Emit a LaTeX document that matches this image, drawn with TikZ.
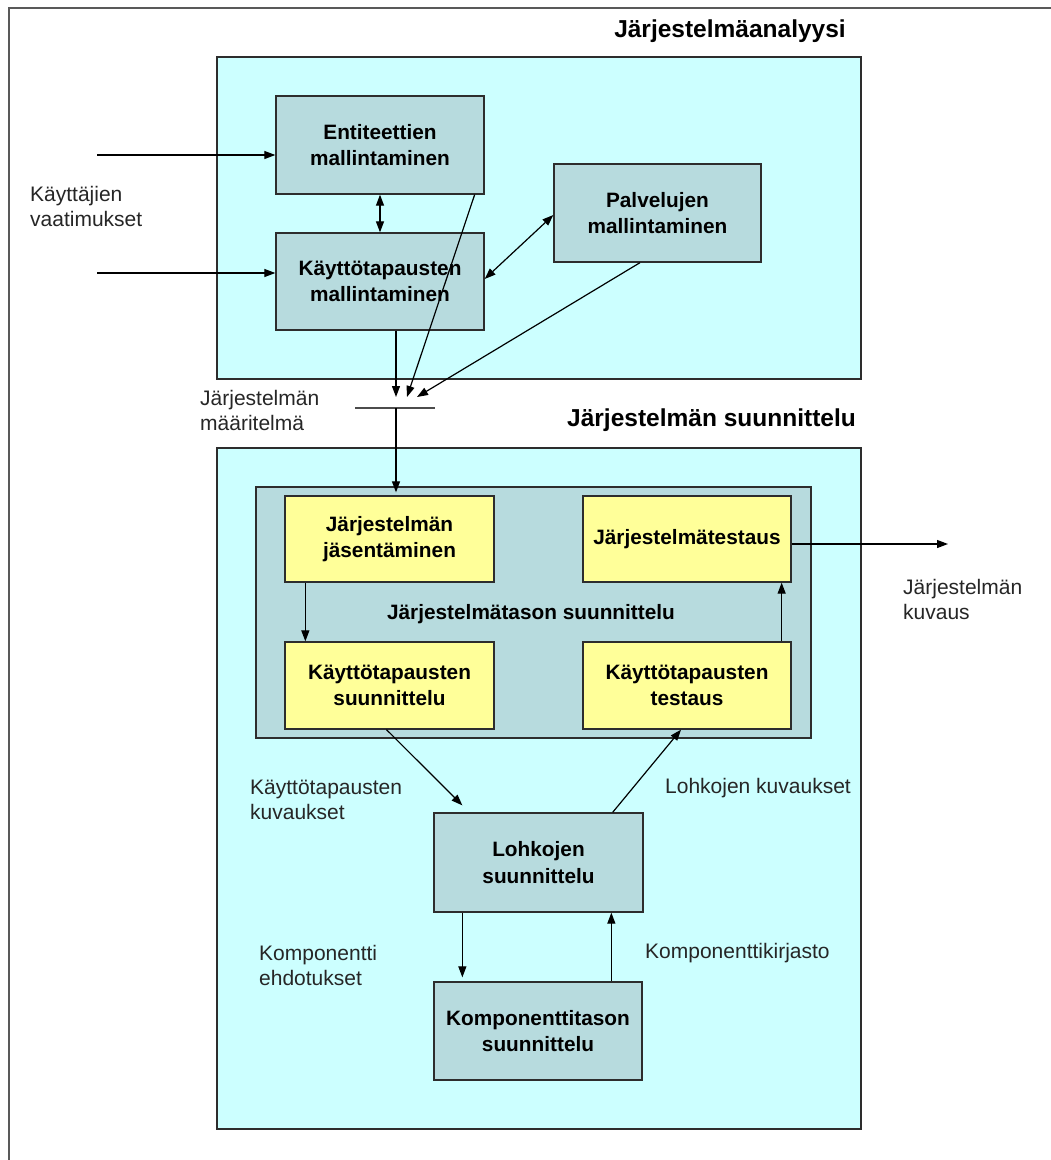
\documentclass[tikz,border=0pt]{standalone}
\usepackage{fontspec}
\setmainfont{Liberation Sans}
\usetikzlibrary{arrows.meta,calc}

\definecolor{paneCyan}{RGB}{204,255,255}
\definecolor{stepGray}{RGB}{183,219,222}
\definecolor{stepYellow}{RGB}{255,255,153}
\definecolor{edgeGray}{RGB}{45,45,45}

\tikzset{
  x=1pt, y=-1pt,
  pane/.style={draw=edgeGray, line width=1.3pt, fill=paneCyan, minimum width=644pt, inner sep=0pt},
  graybox/.style={draw=edgeGray, line width=1.3pt, fill=stepGray, align=center, inner sep=0pt,
    font=\fontsize{20.8}{26.5}\selectfont\bfseries},
  yellowbox/.style={draw=edgeGray, line width=1.3pt, fill=stepYellow, align=center, inner sep=0pt,
    font=\fontsize{20.8}{26.5}\selectfont\bfseries},
  heading/.style={font=\fontsize{24.5}{29}\selectfont\bfseries, inner sep=0pt},
  flowlabel/.style={font=\fontsize{21}{25}\selectfont, text=black!85, align=left, inner sep=0pt, anchor=west},
  flow/.style={line width=1.2pt, -{Triangle[length=11pt,width=8pt]}},
  biflow/.style={line width=1.2pt, {Triangle[length=11pt,width=8pt]}-{Triangle[length=11pt,width=8pt]}},
  plain/.style={line width=1.2pt},
  frame/.style={line width=2pt, draw=black!65}
}

\begin{document}
\begin{tikzpicture}
\useasboundingbox (0,0) rectangle (1051,1160);
\fill[white] (0,0) rectangle (1051,1160);

% page frame (only the top and left edges fall inside the page)
\draw[frame] (9,1160) -- (9,8) -- (1051,8);

% ---------- system analysis ----------
\node[heading, anchor=east] (titleA) at (846,31) {Järjestelmäanalyysi};
\node[pane, minimum height=322pt] (paneA) at (539,218) {};

\node[graybox, minimum width=208pt, minimum height=98pt] (ent) at (380,145) {Entiteettien\\mallintaminen};
\node[graybox, minimum width=208pt, minimum height=97pt] (kay) at (380,281.5) {Käyttötapausten\\mallintaminen};
\node[graybox, minimum width=207pt, minimum height=98pt] (pal) at (657.5,213) {Palvelujen\\mallintaminen};

% user requirements entering from the left
\coordinate (in1) at (97,155);
\coordinate (in2) at (97,273);
\node[flowlabel] (req) at (30,206) {Käyttäjien\\vaatimukset};
\draw[flow] (in1) -- (in1 -| ent.west);
\draw[flow] (in2) -- (in2 -| kay.west);

\draw[biflow] (ent.south) -- (kay.north);
\draw[biflow] ($(kay.east)+(0,-2.5)$) -- ($(pal.west)+(0,2)$);

% merge bar collecting the system definition
\coordinate (m1) at (396,397);
\coordinate (m2) at (407,397);
\coordinate (m3) at (417,397);
\coordinate (barL) at (355,408);
\coordinate (barR) at (435,408);
\coordinate (merge) at (396,408);
\draw[flow] (kay.south -| m1) -- (m1);
\draw[flow] ($(ent.south east)+(-10,0)$) -- (m2);
\draw[flow] ($(pal.south)+(-17.5,0)$) -- (m3);
\draw[plain, draw=black!70] (barL) -- (barR);
\node[flowlabel] (defn) at (200,410) {Järjestelmän\\määritelmä};

% ---------- system design ----------
\node[heading, anchor=west] (titleB) at (567,420) {Järjestelmän suunnittelu};
\node[pane, minimum height=681pt] (paneB) at (539,788.5) {};

\node[graybox, minimum width=555pt, minimum height=251pt] (jt) at (533.5,612.5) {};
\node[font=\fontsize{20.8}{26.5}\selectfont\bfseries, inner sep=0pt] (jtlabel) at (531,614) {Järjestelmätason suunnittelu};

\node[yellowbox, minimum width=209pt, minimum height=86pt] (jas) at (389.5,539) {Järjestelmän\\jäsentäminen};
\node[yellowbox, minimum width=209pt, minimum height=87pt] (ksu) at (389.5,685.5) {Käyttötapausten\\suunnittelu};
\node[yellowbox, minimum width=208pt, minimum height=86pt] (jte) at (687,539) {Järjestelmätestaus};
\node[yellowbox, minimum width=208pt, minimum height=87pt] (kte) at (687,685.5) {Käyttötapausten\\testaus};

\draw[flow, shorten >=3pt] (merge) -- (merge |- jas.north);
\draw[flow] ($(jas.south west)+(21,0)$) -- ($(ksu.north west)+(21,0)$);
\draw[flow] ($(kte.north east)+(-10,0)$) -- ($(jte.south east)+(-10,0)$);

% system description leaving to the right
\coordinate (out) at (948,544);
\draw[flow] ($(jte.east)+(0,5)$) -- (out);
\node[flowlabel] (desc) at (903,599) {Järjestelmän\\kuvaus};

\node[graybox, minimum width=209pt, minimum height=99pt] (loh) at (538.5,862.5) {Lohkojen\\suunnittelu};
\node[graybox, minimum width=208pt, minimum height=98pt] (kom) at (538,1031) {Komponenttitason\\suunnittelu};

\draw[flow] ($(ksu.south)+(-3,0)$) -- ($(loh.north west)+(29,-7)$);
\draw[flow] ($(loh.north east)+(-31,0)$) -- ($(kte.south)+(-6,0)$);
\draw[flow, shorten >=4pt] ($(loh.south west)+(29,0)$) -- ($(kom.north west)+(29,0)$);
\draw[flow] ($(kom.north west)+(178,0)$) -- ($(loh.south west)+(178,0)$);

\node[flowlabel] (ucdesc) at (250,800) {Käyttötapausten\\kuvaukset};
\node[flowlabel] (blkdesc) at (665,788) {Lohkojen kuvaukset};
\node[flowlabel] (compsug) at (259,965) {Komponentti\\ehdotukset};
\node[flowlabel] (complib) at (645,953) {Komponenttikirjasto};
\end{tikzpicture}
\end{document}
